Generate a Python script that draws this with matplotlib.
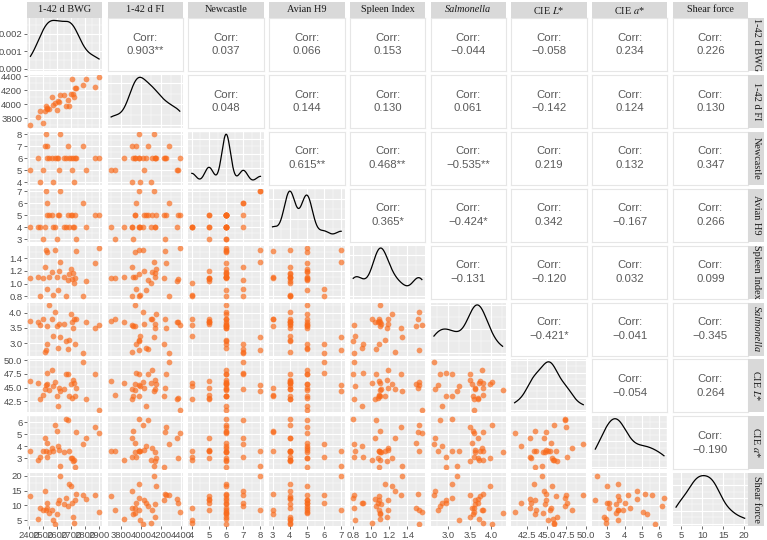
import numpy as np
import matplotlib
matplotlib.use('Agg')
import matplotlib.pyplot as plt
from matplotlib.ticker import MaxNLocator

# ---------------- data (30 birds) ----------------
bwg = [2409, 2466, 2476, 2495, 2516, 2519, 2526, 2530, 2542, 2564, 2571, 2585, 2599, 2606, 2613,
       2620, 2651, 2665, 2680, 2684, 2699, 2706, 2710, 2718, 2727, 2737, 2786, 2808, 2869, 2898]
fi = [3697, 3824, 3902, 3731, 3907, 3980, 3936, 3950, 3936, 4107, 3990, 4019, 3917, 4044, 4030,
      4127, 4136, 3975, 4063, 3975, 4151, 4366, 4140, 4097, 4229, 4239, 4278, 4361, 4244, 4385]
newcastle = [5, 6, 4, 5, 7, 8, 6, 7, 6, 6, 4, 6, 6, 6, 5,
             8, 6, 6, 7, 6, 6, 5, 6, 4, 6, 6, 7, 5, 6, 6]
avian_h9 = [4, 4, 4, 3, 4, 7, 5, 6, 5, 5, 4, 4, 3, 5, 5,
            7, 4, 4, 5, 4, 5, 5, 4, 4, 5, 3, 6, 4, 5, 5]
spleen = [1.09, 1.10, 0.81, 1.09, 1.26, 1.53, 1.49, 0.91, 1.10, 1.18, 0.82, 1.53, 1.10, 0.90, 1.19,
          1.34, 1.11, 0.80, 1.05, 1.15, 1.23, 1.07, 1.17, 1.01, 1.09, 1.52, 0.81, 1.04, 1.33, 1.56]
salmonella = [3.73, 3.71, 3.60, 3.80, 2.70, 2.76, 3.55, 2.96, 4.26, 3.79, 3.24, 4.01, 3.58, 2.85, 3.62,
              3.21, 3.63, 3.08, 2.80, 3.10, 3.96, 3.70, 3.51, 3.80, 2.96, 3.80, 2.67, 3.69, 3.51, 3.60]
cie_l = [46.2, 45.8, 42.9, 43.6, 44.7, 45.4, 45.6, 47.6, 44.6, 48.2, 45.2, 46.0, 43.5, 41.7, 44.9,
         44.4, 44.8, 47.4, 47.4, 43.4, 45.7, 43.0, 46.3, 45.9, 43.5, 44.9, 49.7, 42.9, 47.5, 40.9]
cie_a = [3.6, 2.9, 3.1, 3.6, 4.7, 3.6, 4.3, 3.1, 3.5, 3.9, 3.6, 5.8, 5.3, 4.0, 3.7,
         2.4, 3.5, 6.3, 6.2, 3.6, 3.0, 3.0, 2.8, 2.9, 2.3, 5.2, 4.2, 4.7, 5.6, 5.1]
shear = [13.2, 5.4, 9.2, 8.5, 15.0, 8.5, 9.0, 10.8, 7.5, 8.6, 5.0, 3.8, 7.2, 10.8, 12.0,
         20.1, 10.4, 12.4, 9.8, 17.2, 16.6, 11.0, 6.2, 4.2, 11.7, 14.0, 13.5, 12.3, 13.4, 7.8]

var_names = ['1-42 d BWG', '1-42 d FI', 'Newcastle', 'Avian H9', 'Spleen Index',
             'Salmonella', 'CIE $L$*', 'CIE $a$*', 'Shear force']
italic_name = [False, False, False, False, False, True, False, False, False]

tick_vals = [[2400, 2500, 2600, 2700, 2800, 2900], [3800, 4000, 4200, 4400], [4, 5, 6, 7, 8],
             [3, 4, 5, 6, 7], [0.8, 1.0, 1.2, 1.4], [3.0, 3.5, 4.0], [42.5, 45.0, 47.5, 50.0],
             [3, 4, 5, 6], [5, 10, 15, 20]]
tick_labels = [['2400', '2500', '2600', '2700', '2800', '2900'], ['3800', '4000', '4200', '4400'],
               ['4', '5', '6', '7', '8'], ['3', '4', '5', '6', '7'], ['0.8', '1.0', '1.2', '1.4'],
               ['3.0', '3.5', '4.0'], ['42.5', '45.0', '47.5', '50.0'], ['3', '4', '5', '6'],
               ['5', '10', '15', '20']]
dens_ticks = [0.000, 0.001, 0.002]
dens_tick_labels = ['0.000', '0.001', '0.002']

# correlation labels, upper triangle, row by row
corr_labels = [
    '0.903**', '0.037', '0.066', '0.153', '\u22120.044', '\u22120.058', '0.234', '0.226',
    '0.048', '0.144', '0.130', '0.061', '\u22120.142', '0.124', '0.130',
    '0.615**', '0.468**', '\u22120.535**', '0.219', '0.132', '0.347',
    '0.365*', '\u22120.424*', '0.342', '\u22120.167', '0.266',
    '\u22120.131', '\u22120.120', '0.032', '0.099',
    '\u22120.421*', '\u22120.041', '\u22120.345',
    '\u22120.054', '0.264',
    '\u22120.190',
]

data = [bwg, fi, newcastle, avian_h9, spleen, salmonella, cie_l, cie_a, shear]
data = [np.asarray(d, dtype=float) for d in data]
nv = len(data)

# ---------------- style ----------------
plt.rcParams['mathtext.fontset'] = 'stix'
W, H = 767, 540
fig = plt.figure(figsize=(W / 100, H / 100), dpi=100)
fig.patch.set_facecolor('white')

PANEL_BG = '#EBEBEB'
STRIP_BG = '#D9D9D9'
PT_COLOR = '#F96A1B'
TICK_COLOR = '#4D4D4D'
SANS = 'Liberation Sans'
SERIF = 'Liberation Serif'

x0, col_pitch, pw = 27.0, 80.7, 75.5
y0, row_pitch, ph = 18.0, 56.9, 53.0


def rect(px, py, w, h):
    return [px / W, 1 - (py + h) / H, w / W, h / H]


def lims(v):
    r = v.max() - v.min()
    return v.min() - 0.05 * r, v.max() + 0.05 * r


def minor_of(ticks, lo, hi):
    t = np.asarray(ticks, dtype=float)
    if len(t) < 2:
        return []
    step = t[1] - t[0]
    m = np.arange(t[0] - step / 2, hi + step, step)
    return [x for x in m if lo <= x <= hi]


def kde(v):
    n = len(v)
    sd = v.std(ddof=1)
    q75, q25 = np.percentile(v, [75, 25])
    bw = 0.9 * min(sd, (q75 - q25) / 1.34) * n ** (-0.2)
    g = np.linspace(v.min(), v.max(), 512)
    d = np.exp(-0.5 * ((g[:, None] - v[None, :]) / bw) ** 2).sum(axis=1) / (n * bw * np.sqrt(2 * np.pi))
    return g, d


def grey_grid(ax, xt, yt, xl, yl):
    ax.set_facecolor(PANEL_BG)
    for x in minor_of(xt, *xl):
        ax.axvline(x, color='white', lw=0.35, zorder=0)
    for y in minor_of(yt, *yl):
        ax.axhline(y, color='white', lw=0.35, zorder=0)
    for x in xt:
        ax.axvline(x, color='white', lw=0.8, zorder=0)
    for y in yt:
        ax.axhline(y, color='white', lw=0.8, zorder=0)


k = 0
for i in range(nv):          # row
    for j in range(nv):      # column
        ax = fig.add_axes(rect(x0 + j * col_pitch, y0 + i * row_pitch, pw, ph))
        for s in ax.spines.values():
            s.set_visible(False)
        xl = lims(data[j])
        ax.set_xlim(*xl)
        if i < j:
            ax.set_facecolor('white')
            for s in ax.spines.values():
                s.set_visible(True)
                s.set_color('#E6E6E6')
                s.set_linewidth(0.8)
            ax.text(0.5, 0.5, 'Corr:\n' + corr_labels[k], ha='center', va='center',
                    transform=ax.transAxes, fontsize=8.2, color='#5A5A5A', family=SANS,
                    linespacing=1.45)
            k += 1
            ax.set_ylim(*lims(data[i]))
        elif i == j:
            g, d = kde(data[j])
            yl = (-d.max() * 0.05, d.max() * 1.05)
            ax.set_ylim(*yl)
            yt = [t for t in MaxNLocator(nbins=4, steps=[1, 2, 2.5, 5, 10]).tick_values(0, d.max())
                  if yl[0] <= t <= yl[1]]
            grey_grid(ax, tick_vals[j], yt, xl, yl)
            ax.plot(g, d, color='black', lw=0.9)
        else:
            yl = lims(data[i])
            ax.set_ylim(*yl)
            grey_grid(ax, tick_vals[j], tick_vals[i], xl, yl)
            ax.scatter(data[j], data[i], s=17, color=PT_COLOR, alpha=0.68, linewidths=0,
                       zorder=3)

        # ticks only on outer axes
        ax.tick_params(length=2.2, width=0.5, color='#333333', labelsize=6.8,
                       labelcolor=TICK_COLOR, pad=1.2)
        if i == nv - 1:
            ax.set_xticks(tick_vals[j])
            ax.set_xticklabels(tick_labels[j], family=SANS)
        else:
            ax.set_xticks([])
        if j == 0:
            if i == 0:
                ax.set_yticks(dens_ticks)
                ax.set_yticklabels(dens_tick_labels, family=SANS)
            else:
                ax.set_yticks(tick_vals[i])
                ax.set_yticklabels(tick_labels[i], family=SANS)
        else:
            ax.set_yticks([])

# strips
for j in range(nv):
    sx = fig.add_axes(rect(x0 + j * col_pitch, 2.0, pw, 16.0))
    sx.set_facecolor(STRIP_BG)
    sx.set_xticks([]); sx.set_yticks([])
    for s in sx.spines.values():
        s.set_visible(False)
    sx.text(0.5, 0.5, var_names[j], ha='center', va='center', transform=sx.transAxes,
            fontsize=7.4, family=SERIF, color='#1A1A1A',
            style='italic' if italic_name[j] else 'normal')

for i in range(nv):
    sy = fig.add_axes(rect(x0 + 8 * col_pitch + pw, y0 + i * row_pitch, 16.0, ph))
    sy.set_facecolor(STRIP_BG)
    sy.set_xticks([]); sy.set_yticks([])
    for s in sy.spines.values():
        s.set_visible(False)
    sy.text(0.5, 0.5, var_names[i], ha='center', va='center', transform=sy.transAxes,
            fontsize=7.4, family=SERIF, color='#1A1A1A', rotation=270,
            style='italic' if italic_name[i] else 'normal')

fig.savefig('out.png', dpi=100, facecolor='white')
